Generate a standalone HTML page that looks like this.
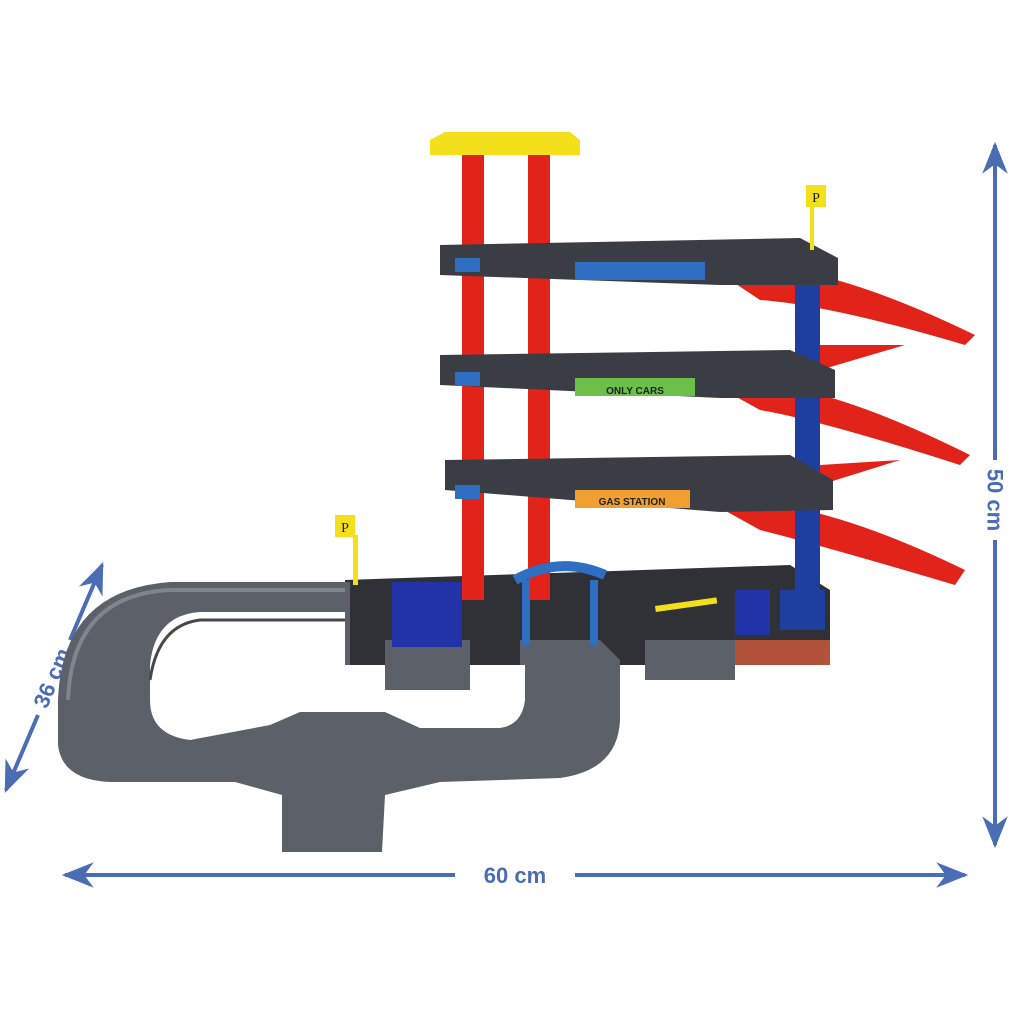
<!DOCTYPE html>
<html><head><meta charset="utf-8"><style>
html,body{margin:0;padding:0;background:#fff;}
svg{display:block}
</style></head><body>
<svg width="1016" height="1024" viewBox="0 0 1016 1024" xmlns="http://www.w3.org/2000/svg">
<rect width="1016" height="1024" fill="#fff"/>
<defs>
<marker id="ah" viewBox="0 0 20 20" refX="18" refY="10" markerWidth="8" markerHeight="8" orient="auto-start-reverse">
<path d="M0,2 L20,10 L0,18 L6,10 Z" fill="#4a6db3"/></marker>
</defs>
<!-- arrows -->
<line x1="995" y1="145" x2="995" y2="460" stroke="#4a6db3" stroke-width="4" marker-start="url(#ah)"/>
<line x1="995" y1="540" x2="995" y2="845" stroke="#4a6db3" stroke-width="4" marker-end="url(#ah)"/>
<text transform="translate(995,500) rotate(90)" text-anchor="middle" dominant-baseline="central" font-family="Liberation Sans" font-weight="bold" font-size="22" fill="#4a6db3">50 cm</text>
<line x1="65" y1="875" x2="455" y2="875" stroke="#4a6db3" stroke-width="4" marker-start="url(#ah)"/>
<line x1="575" y1="875" x2="965" y2="875" stroke="#4a6db3" stroke-width="4" marker-end="url(#ah)"/>
<text x="515" y="883" text-anchor="middle" font-family="Liberation Sans" font-weight="bold" font-size="22" fill="#4a6db3">60 cm</text>
<line x1="102" y1="565" x2="70" y2="640" stroke="#4a6db3" stroke-width="4" marker-start="url(#ah)"/>
<line x1="38" y1="715" x2="6" y2="790" stroke="#4a6db3" stroke-width="4" marker-end="url(#ah)"/>
<text transform="translate(52,678) rotate(-67)" text-anchor="middle" dominant-baseline="central" font-family="Liberation Sans" font-weight="bold" font-size="22" fill="#4a6db3">36 cm</text>

<!-- base plate -->
<polygon points="345,580 790,565 830,590 830,640 730,665 345,665" fill="#2f3136"/>
<rect x="730" y="640" width="100" height="25" fill="#b0533a"/>
<!-- road loop -->
<path fill-rule="evenodd" fill="#5c6068" d="M350,582 L170,582 Q62,590 58,700 L58,745 Q62,780 110,782 L235,782 L282,795 L282,852 L382,852 L385,795 L440,782 L560,778 Q618,770 620,720 L620,660 L600,640 L520,640 L520,665 L470,665 L470,640 L385,640 L385,665 L350,665 Z
M200,612 L345,612 L345,665 L385,665 L385,690 L470,690 L470,665 L525,665 L525,700 Q522,725 500,728 L420,728 L385,712 L300,712 L270,725 L190,740 Q150,735 150,700 L150,665 Q155,615 200,612 Z"/>
<path d="M68,700 Q72,595 170,590 L345,590" stroke="#80848c" stroke-width="4" fill="none"/>
<path d="M150,680 Q158,625 200,620 L345,620" stroke="#464950" stroke-width="3" fill="none"/>
<rect x="645" y="640" width="90" height="40" fill="#5c6068"/>
<!-- ramps -->
<path d="M715,270 Q800,250 975,335 L965,345 Q830,305 760,300 Z" fill="#e2231a"/>
<path d="M715,385 Q800,370 970,455 L960,465 Q820,420 760,410 Z" fill="#e2231a"/>
<path d="M715,505 Q800,490 965,570 L955,585 Q820,545 760,530 Z" fill="#e2231a"/>
<path d="M820,345 L905,345 L820,370 Z" fill="#e2231a"/>
<path d="M820,465 L900,460 L820,485 Z" fill="#e2231a"/>
<!-- blue column -->
<rect x="795" y="280" width="25" height="320" fill="#1f3fa0"/>
<rect x="780" y="590" width="45" height="40" fill="#1f3fa0"/>
<!-- red columns -->
<rect x="462" y="155" width="22" height="445" fill="#e2231a"/>
<rect x="528" y="155" width="22" height="445" fill="#e2231a"/>
<!-- floors -->
<g fill="#3a3d44">
<polygon points="440,245 800,238 838,258 838,285 720,285 440,275"/>
<polygon points="440,355 790,350 835,370 835,398 720,398 440,385"/>
<polygon points="445,460 790,455 833,480 833,510 720,512 445,490"/>
</g>
<rect x="575" y="262" width="130" height="18" fill="#2e6fc4"/>
<rect x="575" y="378" width="120" height="18" fill="#6cc04a"/>
<text x="635" y="394" text-anchor="middle" font-family="Liberation Sans" font-weight="bold" font-size="10" fill="#222">ONLY CARS</text>
<rect x="575" y="490" width="115" height="18" fill="#f0a030"/>
<text x="632" y="505" text-anchor="middle" font-family="Liberation Sans" font-weight="bold" font-size="10" fill="#222">GAS STATION</text>
<rect x="455" y="258" width="25" height="14" fill="#2e6fc4"/>
<rect x="455" y="372" width="25" height="14" fill="#2e6fc4"/>
<rect x="455" y="485" width="25" height="14" fill="#2e6fc4"/>
<!-- top yellow -->
<path d="M430,140 L445,132 L570,132 L580,140 L580,155 L430,155 Z" fill="#f4e01a"/>
<!-- signs -->
<rect x="806" y="185" width="20" height="22" fill="#f4e01a"/>
<rect x="810" y="205" width="4" height="45" fill="#f4e01a"/>
<text x="816" y="202" text-anchor="middle" font-family="Liberation Serif" font-size="14" fill="#222">P</text>
<rect x="335" y="515" width="20" height="22" fill="#f4e01a"/>
<text x="345" y="532" text-anchor="middle" font-family="Liberation Serif" font-size="14" fill="#222">P</text>
<rect x="353" y="535" width="5" height="50" fill="#f4e01a"/>
<!-- blue parts on base -->
<rect x="392" y="582" width="70" height="65" fill="#2233a8"/>
<path d="M515,580 Q560,555 605,575" stroke="#2e6fc4" stroke-width="10" fill="none"/>
<rect x="522" y="580" width="8" height="65" fill="#2e6fc4"/>
<rect x="590" y="580" width="8" height="65" fill="#2e6fc4"/>
<rect x="735" y="590" width="35" height="45" fill="#2233a8"/>
<rect x="655" y="606" width="62" height="6" fill="#f4e01a" transform="rotate(-8 655 606)"/>
</svg>
</body></html>
